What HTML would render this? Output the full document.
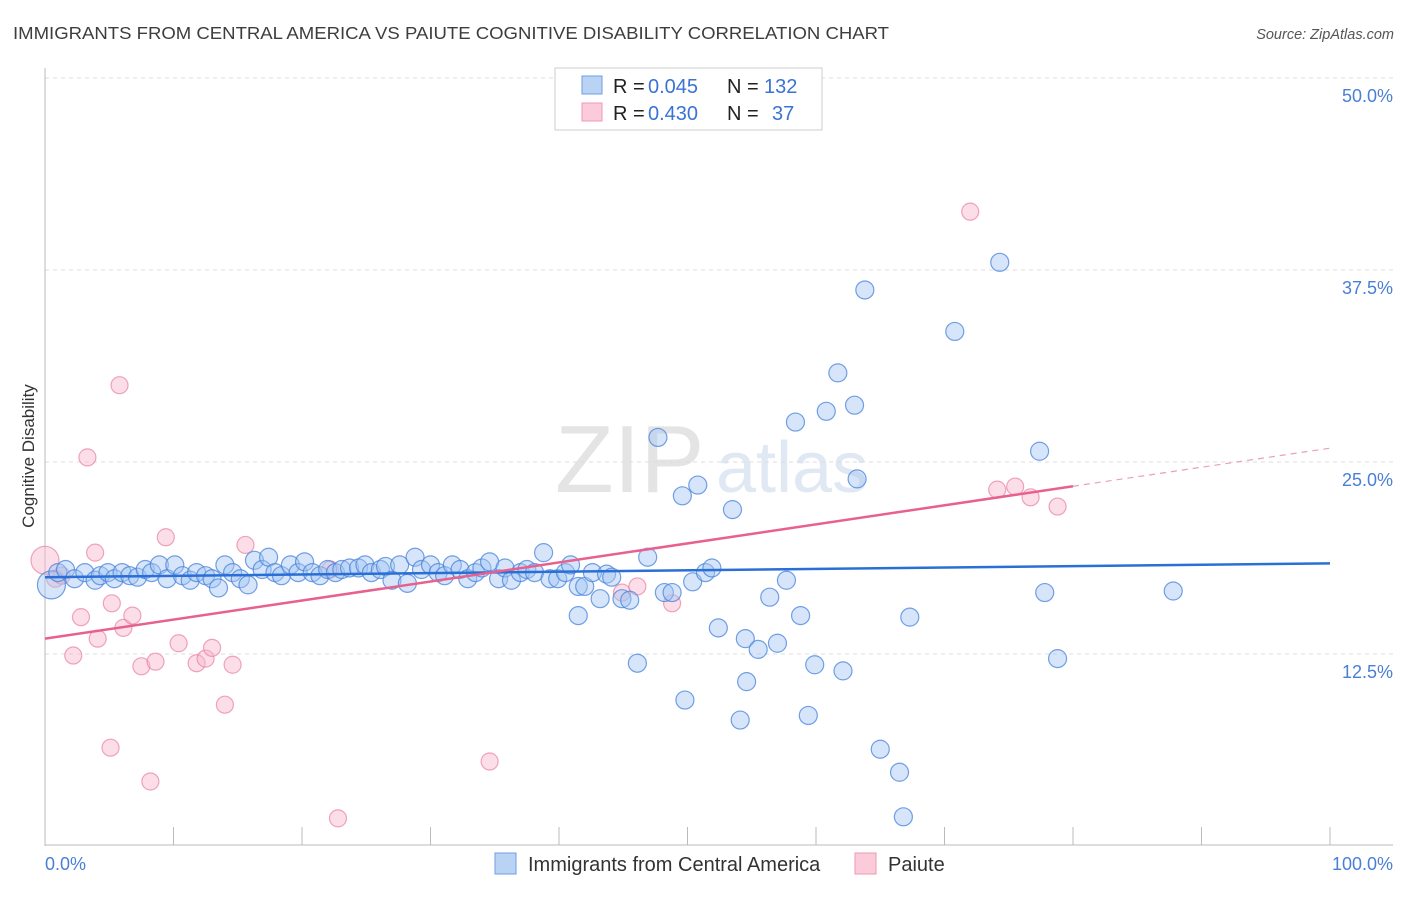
<!DOCTYPE html>
<html><head><meta charset="utf-8"><style>
body{margin:0;background:#fff;font-family:"Liberation Sans",sans-serif;}
svg text{font-family:"Liberation Sans",sans-serif;}
</style></head><body>
<svg id="chart" width="1406" height="892" xmlns="http://www.w3.org/2000/svg">
<text x="13" y="39" font-size="17.5" fill="#3d3d3d" textLength="876" lengthAdjust="spacingAndGlyphs">IMMIGRANTS FROM CENTRAL AMERICA VS PAIUTE COGNITIVE DISABILITY CORRELATION CHART</text>
<text x="1394" y="39" font-size="14.5" fill="#555" font-style="italic" text-anchor="end">Source: ZipAtlas.com</text>
<text transform="translate(34,456) rotate(-90)" font-size="17" fill="#333" text-anchor="middle">Cognitive Disability</text>
<g><text x="555" y="492" font-size="96" fill="#e4e4e4" font-family="Liberation Serif">ZIP</text><text x="716" y="492" font-size="72" fill="#dfe8f3">atlas</text></g>
<g id="grid"></g><g id="marks"></g>
<g>
<rect x="555" y="68" width="267" height="62" fill="#fff" stroke="#ccc"/>
<rect x="582" y="76" width="20" height="18" fill="#b9d3f5" stroke="#6e9fe0"/>
<rect x="582" y="103" width="20" height="18" fill="#fbcbd9" stroke="#ee9ab4"/>
<text x="613" y="93" font-size="20" fill="#222">R =</text>
<text x="648" y="93" font-size="20" fill="#3a73d6">0.045</text>
<text x="727" y="93" font-size="20" fill="#222">N =</text>
<text x="764" y="93" font-size="20" fill="#3a73d6">132</text>
<text x="613" y="120" font-size="20" fill="#222">R =</text>
<text x="648" y="120" font-size="20" fill="#3a73d6">0.430</text>
<text x="727" y="120" font-size="20" fill="#222">N =</text>
<text x="772" y="120" font-size="20" fill="#3a73d6">37</text>
</g>
<g>
<rect x="495" y="853" width="21" height="21" fill="#b9d3f5" stroke="#6e9fe0"/>
<text x="528" y="871" font-size="20" fill="#333">Immigrants from Central America</text>
<rect x="855" y="853" width="21" height="21" fill="#fbcbd9" stroke="#ee9ab4"/>
<text x="888" y="871" font-size="20" fill="#333">Paiute</text>
</g>
<text x="45" y="870" font-size="18" fill="#4a7fd6">0.0%</text>
<text x="1393" y="870" font-size="18" fill="#4a7fd6" text-anchor="end">100.0%</text>
</svg>
<script>
const yTicks=[12.5,25,37.5,50];
const yTickLabels=["12.5%","25.0%","37.5%","50.0%"];
const xTicks=[0,10,20,30,40,50,60,70,80,90,100];
const blueX=[0.5,1.0,1.6,2.3,3.1,3.9,4.3,4.9,5.4,6.0,6.6,7.2,7.8,8.3,8.9,9.5,10.1,10.7,11.3,11.8,12.5,13.0,13.5,14.0,14.6,15.2,15.8,16.3,16.9,17.4,17.9,18.4,19.1,19.7,20.2,20.8,21.4,22.0,22.6,23.1,23.7,24.4,24.9,25.4,26.1,26.5,27.0,27.6,28.2,28.8,29.3,30.0,30.6,31.1,31.7,32.3,32.9,33.5,34.0,34.6,35.3,35.8,36.3,37.0,37.5,38.1,38.8,39.3,39.9,40.5,40.9,41.5,41.5,42.0,42.6,43.2,43.7,44.1,44.9,45.5,46.1,46.9,47.7,48.2,48.8,49.6,49.8,50.4,50.8,51.4,51.9,52.4,53.5,54.1,54.5,54.6,55.5,56.4,57.0,57.7,58.4,58.8,59.4,59.9,60.8,61.7,62.1,63.0,63.2,63.8,65.0,66.5,66.8,67.3,70.8,74.3,77.4,77.8,78.8,87.8];
const blueY=[17.0,17.8,18.0,17.4,17.8,17.3,17.6,17.8,17.4,17.8,17.6,17.5,18.0,17.8,18.3,17.4,18.3,17.6,17.3,17.8,17.6,17.4,16.8,18.3,17.8,17.4,17.0,18.6,18.0,18.8,17.8,17.6,18.3,17.8,18.5,17.8,17.6,18.0,17.8,18.0,18.1,18.1,18.3,17.8,18.0,18.2,17.3,18.3,17.1,18.8,18.0,18.3,17.8,17.6,18.3,18.0,17.4,17.8,18.1,18.5,17.4,18.1,17.3,17.8,18.0,17.8,19.1,17.4,17.4,17.8,18.3,16.9,15.0,16.9,17.8,16.1,17.7,17.5,16.1,16.0,11.9,18.8,26.6,16.5,16.5,22.8,9.5,17.2,23.5,17.8,18.1,14.2,21.9,8.2,13.5,10.7,12.8,16.2,13.2,17.3,27.6,15.0,8.5,11.8,28.3,30.8,11.4,28.7,23.9,36.2,6.3,4.8,1.9,14.9,33.5,38.0,25.7,16.5,12.2,16.6];
const pinkX=[0,0.8,1.3,2.2,2.8,3.3,3.9,4.1,5.1,5.2,5.8,6.1,6.8,7.5,8.2,8.6,9.4,10.4,11.8,12.5,13.0,14.0,14.6,15.6,22.2,22.8,34.6,44.9,46.1,48.8,72.0,74.1,75.5,76.7,78.8];
const pinkY=[18.6,17.4,17.6,12.4,14.9,25.3,19.1,13.5,6.4,15.8,30.0,14.2,15.0,11.7,4.2,12.0,20.1,13.2,11.9,12.2,12.9,9.2,11.8,19.6,18.0,1.8,5.5,16.5,16.9,15.8,41.3,23.2,23.4,22.7,22.1];
const blueTrend=[17.5,0.009];
const pinkTrend=[13.5,0.124];
const pinkSolidEnd=80;

const X0=45,X1=1330,YB=846,YT=78;
const xs=v=>X0+(X1-X0)*v/100;
const ys=v=>YB-(YB-YT)*v/50;
const NS='http://www.w3.org/2000/svg';
function mk(tag,attrs,parent){const e=document.createElementNS(NS,tag);for(const k in attrs)e.setAttribute(k,attrs[k]);parent.appendChild(e);return e;}
const grid=document.getElementById('grid'),marks=document.getElementById('marks');
yTicks.forEach((t,i)=>{
 const l=mk('line',{x1:X0,x2:1393,y1:ys(t),y2:ys(t),stroke:'#ddd','stroke-dasharray':'4,4'},grid);
 
 
 const tx=mk('text',{x:1393,y:ys(t)+24,'font-size':18,fill:'#4a7fd6','text-anchor':'end'},grid);
 tx.textContent=yTickLabels[i];
 
 
});
const ax=mk('line',{x1:X0,x2:X0,y1:68,y2:846,stroke:'#bbb'},grid);


const bx=mk('line',{x1:X0,x2:1393,y1:845,y2:845,stroke:'#bbb'},grid);


xTicks.forEach(t=>{
 const l=mk('line',{x1:xs(t),x2:xs(t),y1:827,y2:845,stroke:'#bbb'},grid);
 
 
});
function dot(x,y,r,fill,stroke,name){
 const c=mk('circle',{cx:xs(x),cy:ys(y),r:r,fill:fill,stroke:stroke,'stroke-width':1.2},marks);
 
 
}
pinkX.forEach((x,i)=>dot(x,pinkY[i],i===0?14:8.5,'rgba(249,182,204,0.45)','rgba(232,128,160,0.7)','paiute-point'));
blueX.forEach((x,i)=>dot(x,blueY[i],i===0?14:9,'rgba(164,198,242,0.45)','rgba(70,130,220,0.75)','central-america-point'));
const bl=mk('line',{x1:xs(0),y1:ys(blueTrend[0]),x2:xs(100),y2:ys(blueTrend[0]+blueTrend[1]*100),stroke:'#2a6fd6','stroke-width':2.5},marks);


const pl=mk('line',{x1:xs(0),y1:ys(pinkTrend[0]),x2:xs(pinkSolidEnd),y2:ys(pinkTrend[0]+pinkTrend[1]*pinkSolidEnd),stroke:'#e8608e','stroke-width':2.5},marks);


const pd=mk('line',{x1:xs(pinkSolidEnd),y1:ys(pinkTrend[0]+pinkTrend[1]*pinkSolidEnd),x2:xs(100),y2:ys(pinkTrend[0]+pinkTrend[1]*100),stroke:'#e8a0b8','stroke-width':1.2,'stroke-dasharray':'6,5'},marks);


</script>
</body></html>
